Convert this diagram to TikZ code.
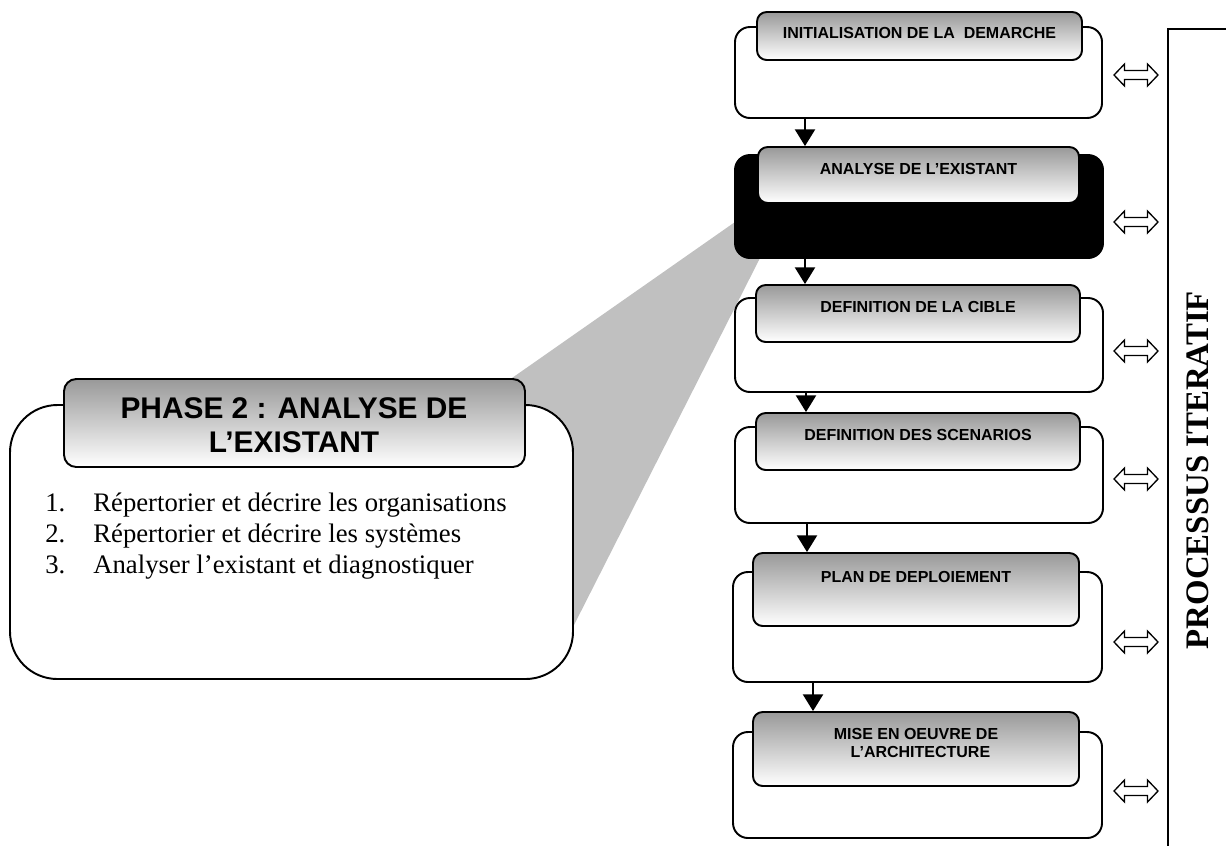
\documentclass[tikz,border=0pt]{standalone}
\usepackage{fontspec}
\setmainfont{Liberation Serif}
\setsansfont{Liberation Sans}
\usetikzlibrary{arrows.meta,fit,calc}
\definecolor{funnelgray}{RGB}{192,192,192}

\begin{document}
\begin{tikzpicture}[x=0.02cm,y=-0.02cm,
  outerbox/.style={draw=black, line width=1.1pt, fill=white, rounded corners=8.5pt, inner sep=0pt},
  bigbox/.style={draw=black, line width=1.1pt, fill=white, rounded corners=27pt, inner sep=0pt},
  hdr/.style={draw=black, line width=1.1pt, top color=black!40, bottom color=white, rounded corners=5.5pt, inner sep=0pt},
  bighdr/.style={hdr, rounded corners=7pt},
  hdrtext/.style={font=\sffamily\bfseries\fontsize{9.1pt}{10.2pt}\selectfont, align=center, anchor=base, inner sep=0pt},
  listtext/.style={font=\rmfamily\fontsize{15.2pt}{17.6pt}\selectfont, anchor=base west, inner sep=0pt},
  flow/.style={line width=0.85pt, -{Triangle[width=11.5pt,length=9.5pt]}},
  bracket/.style={line width=0.85pt},
  dblarrow/.pic={
    \draw[line width=0.75pt, fill=white, line join=miter]
      (-22,0) -- (-11.5,-11) -- (-11.5,-4.5) -- (11.5,-4.5) -- (11.5,-11)
      -- (22,0) -- (11.5,11) -- (11.5,4.5) -- (-11.5,4.5) -- (-11.5,11) -- cycle;
  }]
\useasboundingbox (0,0) rectangle (1226,846);

% zoom funnel from the active phase to the detail panel
\fill[funnelgray] (512,378) -- (735,222) -- (760,258) -- (573,627) -- cycle;

% detail panel
\node[bigbox, fit={(10,405) (573,679)}] (detail) {};
\node[bighdr, fit={(64,379) (525,467)}] (dhdr) {};
\node[font=\sffamily\bfseries\fontsize{17pt}{19.3pt}\selectfont, align=center, inner sep=0pt]
  (dtitle) at (294,425) {PHASE 2 : ANALYSE DE\\L’EXISTANT};
\node[listtext] (n1) at (45,511) {1.};
\node[listtext] (l1) at (93,511) {Répertorier et décrire les organisations};
\node[listtext] (n2) at (45,542) {2.};
\node[listtext] (l2) at (93,542) {Répertorier et décrire les systèmes};
\node[listtext] (n3) at (45,573) {3.};
\node[listtext] (l3) at (93,573) {Analyser l’existant et diagnostiquer};

% phase column: outer frames
\node[outerbox, fit={(735,27) (1102,118)}] (o1) {};
\node[outerbox, fill=black, fit={(735,155) (1103,258)}] (o2) {};
\node[outerbox, fit={(735,298) (1103,392)}] (o3) {};
\node[outerbox, fit={(735,427) (1103,523)}] (o4) {};
\node[outerbox, fit={(733,572) (1102,682)}] (o5) {};
\node[outerbox, fit={(733,732) (1102,838)}] (o6) {};

% phase column: shaded title tabs
\node[hdr, fit={(757,12) (1082,60)}] (h1) {};
\node[hdr, fit={(758,147) (1079,203)}] (h2) {};
\node[hdr, fit={(756,285) (1080,342)}] (h3) {};
\node[hdr, fit={(756,413) (1080,470)}] (h4) {};
\node[hdr, fit={(753,553) (1079,626)}] (h5) {};
\node[hdr, fit={(753,712) (1079,786)}] (h6) {};

\node[hdrtext] (t1) at ($(h1.north)+(0,27)$) {INITIALISATION DE LA\ \ DEMARCHE};
\node[hdrtext] (t2) at ($(h2.north)+(0,28)$) {ANALYSE DE L’EXISTANT};
\node[hdrtext] (t3) at ($(h3.north)+(0,28)$) {DEFINITION DE LA CIBLE};
\node[hdrtext] (t4) at ($(h4.north)+(0,28)$) {DEFINITION DES SCENARIOS};
\node[hdrtext] (t5) at ($(h5.north)+(0,30)$) {PLAN DE DEPLOIEMENT};
\node[hdrtext] (t6) at ($(h6.north)+(0,46)$) {MISE EN OEUVRE DE\\\ \ L’ARCHITECTURE};

% sequence arrows
\coordinate (c1) at (805,0);
\coordinate (c2) at (805,0);
\coordinate (c3) at (806,0);
\coordinate (c4) at (807,0);
\coordinate (c5) at (813,0);
\draw[flow] (o1.south -| c1) -- (h2.north -| c1);
\draw[flow] (o2.south -| c2) -- (h3.north -| c2);
\draw[flow] (o3.south -| c3) -- (h4.north -| c3);
\draw[flow] (o4.south -| c4) -- (h5.north -| c4);
\draw[flow] (o5.south -| c5) -- (h6.north -| c5);

% iteration links
\pic at (1136,75) {dblarrow};
\pic at (1136,222) {dblarrow};
\pic at (1136,351) {dblarrow};
\pic at (1136,479) {dblarrow};
\pic at (1136,642) {dblarrow};
\pic at (1136,791) {dblarrow};

% iterative process bracket
\coordinate (bt) at (1226,29);
\coordinate (bc) at (1168,29);
\coordinate (bb) at (1168,846);
\draw[bracket] (bt) -- (bc) -- (bb);
\node[rotate=90, font=\rmfamily\bfseries\fontsize{18.7pt}{20pt}\selectfont, inner sep=0pt]
  (iter) at (1198,470) {PROCESSUS ITERATIF};
\end{tikzpicture}
\end{document}
